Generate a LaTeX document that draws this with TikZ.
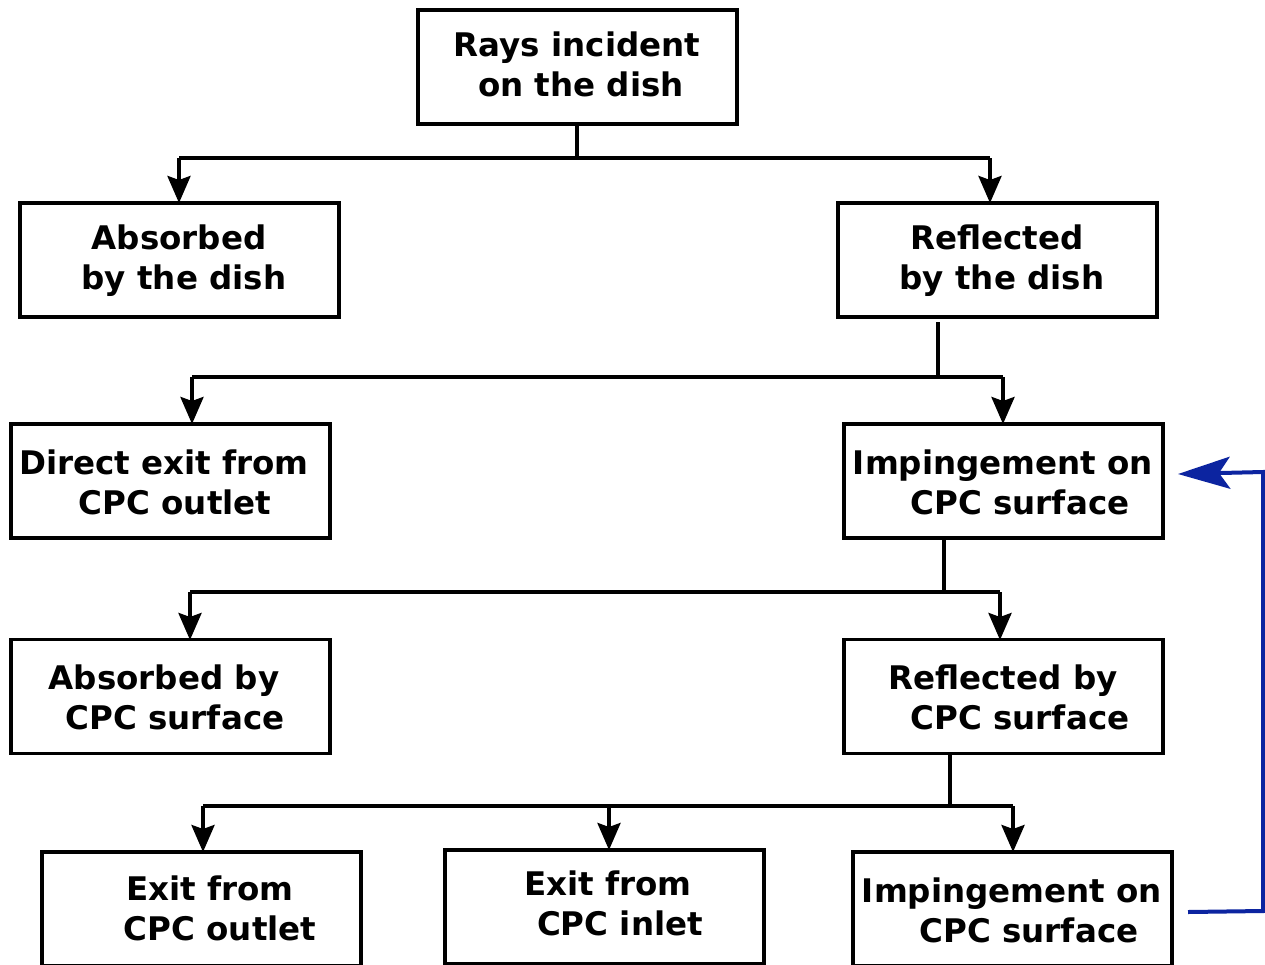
\documentclass[tikz,border=0pt]{standalone}
\usepackage{fontspec}
\setmainfont{DejaVu Sans}
\usetikzlibrary{arrows.meta}
\definecolor{flowblue}{RGB}{12,36,160}
\tikzset{
  box/.style={draw=black, line width=3.5pt, minimum width=319pt, minimum height=114pt, inner sep=0pt},
  lbl/.style={anchor=base, inner sep=0pt, font=\fontsize{32.5}{39}\selectfont\bfseries},
  conn/.style={draw=black, line width=3.8pt},
  arr/.style={conn, -{Stealth[length=27pt,width=23pt,inset=4pt]}},
  back/.style={draw=flowblue, line width=4pt, -{Stealth[length=52pt,width=32pt,inset=11pt]}}
}
\begin{document}
\begin{tikzpicture}[x=1pt,y=-1pt]
\useasboundingbox (0,0) rectangle (1265,964);
\clip (0,0) rectangle (1265,964);
\fill[white] (0,0) rectangle (1265,964);
% boxes
\node[box] (b1) at (577.5,67) {};
\node[box] (b2) at (179.5,260) {};
\node[box] (b3) at (997.5,260) {};
\node[box] (b4) at (170.5,481) {};
\node[box] (b5) at (1003.5,481) {};
\node[box] (b6) at (170.5,696.5) {};
\node[box] (b7) at (1003.5,696.5) {};
\node[box] (b8) at (201.5,909) {};
\node[box] (b9) at (604.5,907) {};
\node[box] (b10) at (1012.5,909) {};
% labels
\node[lbl] (t1a) at (577,56) {Rays incident};
\node[lbl] (t1b) at (581,96) {on the dish};
\node[lbl] (t2a) at (179,249) {Absorbed};
\node[lbl] (t2b) at (184,289) {by the dish};
\node[lbl] (t3a) at (997,249) {Reflected};
\node[lbl] (t3b) at (1002,289) {by the dish};
\node[lbl] (t4a) at (164,474) {Direct exit from};
\node[lbl] (t4b) at (175,514) {CPC outlet};
\node[lbl] (t5a) at (1003,474) {Impingement on};
\node[lbl] (t5b) at (1020,514) {CPC surface};
\node[lbl] (t6a) at (164,689) {Absorbed by};
\node[lbl] (t6b) at (175,729) {CPC surface};
\node[lbl] (t7a) at (1003,689) {Reflected by};
\node[lbl] (t7b) at (1020,729) {CPC surface};
\node[lbl] (t8a) at (210,900) {Exit from};
\node[lbl] (t8b) at (220,940) {CPC outlet};
\node[lbl] (t9a) at (608,895) {Exit from};
\node[lbl] (t9b) at (620,935) {CPC inlet};
\node[lbl] (t10a) at (1012,902) {Impingement on};
\node[lbl] (t10b) at (1029,942) {CPC surface};
% junction coordinates
\coordinate (j1) at (577,158);
\coordinate (s1) at (577,124);
\coordinate (l1) at (179,158);
\coordinate (r1) at (990,158);
\coordinate (e2) at (179,203);
\coordinate (e3) at (990,203);
\coordinate (s3) at (938,322);
\coordinate (j3) at (938,377);
\coordinate (l3) at (192,377);
\coordinate (r3) at (1003,377);
\coordinate (e4) at (192,424);
\coordinate (e5) at (1003,424);
\coordinate (s5) at (944,538);
\coordinate (j5) at (944,592);
\coordinate (l5) at (190,592);
\coordinate (r5) at (1000,592);
\coordinate (e6) at (190,640);
\coordinate (e7) at (1000,640);
\coordinate (s7) at (950,753);
\coordinate (j7) at (950,806);
\coordinate (l7) at (203,806);
\coordinate (m7) at (609,806);
\coordinate (r7) at (1013,806);
\coordinate (e8) at (203,852);
\coordinate (e9) at (609,850);
\coordinate (e10) at (1013,852);
\coordinate (fb1) at (1188,912);
\coordinate (fb2) at (1263,911);
\coordinate (fb3) at (1263,472);
\coordinate (fb4) at (1178,474);
% connectors
\draw[conn] (s1) -- (j1);
\draw[conn] (l1) -- (r1);
\draw[arr] (l1) -- (e2);
\draw[arr] (r1) -- (e3);
\draw[conn] (s3) -- (j3);
\draw[conn] (l3) -- (r3);
\draw[arr] (l3) -- (e4);
\draw[arr] (r3) -- (e5);
\draw[conn] (s5) -- (j5);
\draw[conn] (l5) -- (r5);
\draw[arr] (l5) -- (e6);
\draw[arr] (r5) -- (e7);
\draw[conn] (s7) -- (j7);
\draw[conn] (l7) -- (r7);
\draw[arr] (l7) -- (e8);
\draw[arr] (m7) -- (e9);
\draw[arr] (r7) -- (e10);
\draw[back] (fb1) -- (fb2) -- (fb3) -- (fb4);
\end{tikzpicture}
\end{document}
